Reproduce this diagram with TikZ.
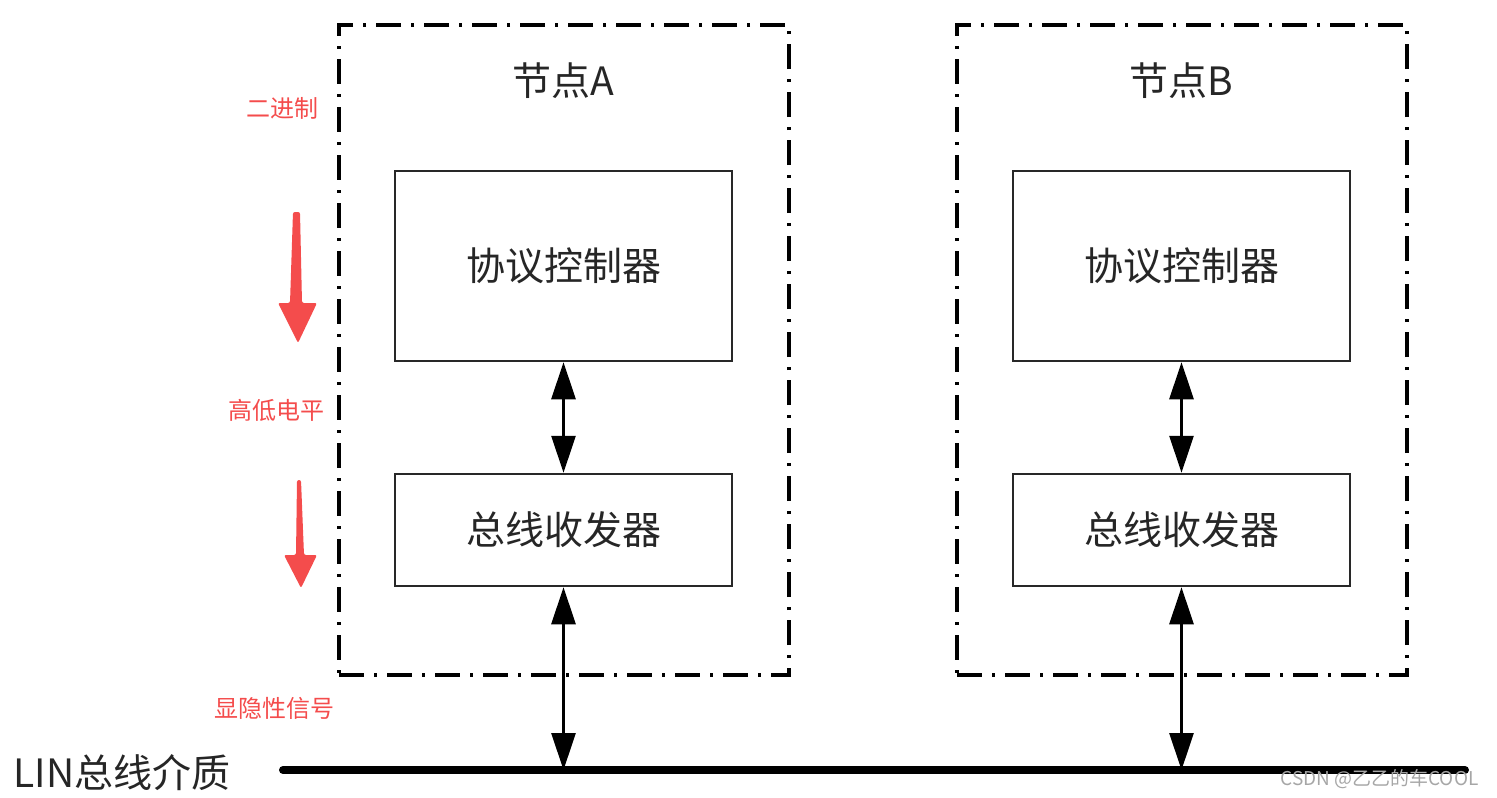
\documentclass[tikz,border=0pt]{standalone}
\usepackage{fontspec}
\setmainfont{Noto Sans CJK SC}
\usetikzlibrary{arrows.meta}
\definecolor{markred}{RGB}{244,76,76}
\definecolor{boxline}{RGB}{40,40,40}

\begin{document}
\begin{tikzpicture}[x=1pt, y=-1pt,
    nodeframe/.style={draw, line width=4.5pt, dash pattern=on 25pt off 10pt on 3pt off 10pt,
        minimum width=450pt, minimum height=650pt, inner sep=0pt},
    unitbox/.style={draw=boxline, line width=2.5pt, minimum width=337pt, inner sep=0pt,
        text=black!85, font=\fontsize{39}{44}\selectfont},
    biarrow/.style={line width=2.8pt, {Triangle[length=37pt, width=24pt]}-{Triangle[length=37pt, width=24pt]}},
    redlabel/.style={text=markred, font=\fontsize{24}{28}\selectfont},
    ]
    \useasboundingbox (0,0) rectangle (1497,798);

    % Draw the bus line
    \coordinate (busL) at (283,770);
    \coordinate (busR) at (1465,770);
    \draw[line width=8pt, line cap=round] (busL) -- (busR);
    \node[anchor=west, text=black!85, font=\fontsize{39}{44}\selectfont] (buslabel) at (10,773) {LIN总线介质};

    % Draw the two nodes with controller and transceiver
    \foreach \n/\x/\name in {a/563.5/A, b/1181.5/B} {
        \node[nodeframe] (frame\n) at (\x+0.5,350) {};
        \node[text=black!85, font=\fontsize{39}{44}\selectfont] (title\n) at (\x,81) {节点\name};
        \node[unitbox, minimum height=190pt] (ctrl\n) at (\x,266) {协议控制器};
        \node[unitbox, minimum height=112pt] (xcvr\n) at (\x,530) {总线收发器};
        \draw[biarrow] (ctrl\n.south) -- (xcvr\n.north);
        \draw[biarrow] (xcvr\n.south) -- (xcvr\n.south |- busL);
    }

    % Red notes on the left
    \node[redlabel] (binary) at (282,108) {二进制};
    \node[redlabel] (level) at (276,410) {高低电平};
    \node[redlabel] (signal) at (274,708) {显隐性信号};
    \fill[markred, rounded corners=2pt] (293,212) -- (300,212) -- (302,303) -- (317,303)
        -- (298,343) -- (278,303) -- (290,303) -- cycle;
    \fill[markred, rounded corners=2pt] (297,480) -- (301,480) -- (304,555) -- (317,555)
        -- (301,588) -- (284,555) -- (296,555) -- cycle;

    % Watermark
    \node[anchor=east, text=gray!70, font=\fontsize{19}{22}\selectfont] (mark) at (1482,779) {CSDN @乙乙的车COOL};
\end{tikzpicture}
\end{document}
